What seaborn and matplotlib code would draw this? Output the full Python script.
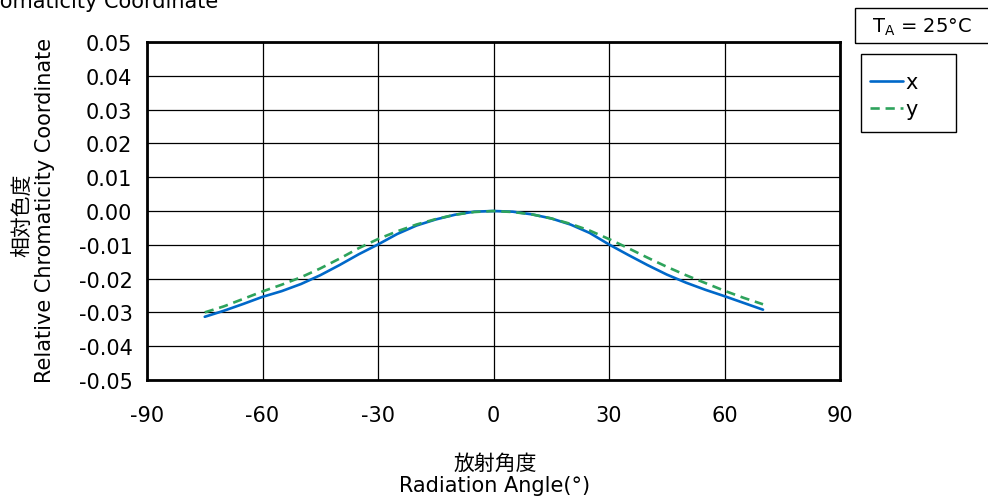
import numpy as np
import pandas as pd
import matplotlib
matplotlib.use('Agg')
import matplotlib.pyplot as plt
import seaborn as sns
from matplotlib.patches import Rectangle

# angulos de radiacao (graus)
angulos = [-75, -70, -65, -60, -55, -50, -45, -40, -35, -30, -25, -20, -15, -10, -5,
           0, 5, 10, 15, 20, 25, 30, 35, 40, 45, 50, 55, 60, 65, 70]

# coordenada x relativa
coord_x = [-0.0313, -0.0295, -0.0275, -0.0254, -0.0237, -0.0216, -0.0190, -0.0160,
           -0.0128, -0.0099, -0.0068, -0.0043, -0.0025, -0.0011, -0.0002,
           0.0000, -0.0002, -0.0010, -0.0022, -0.0040, -0.0065, -0.0099, -0.0130,
           -0.0160, -0.0188, -0.0212, -0.0233, -0.0252, -0.0272, -0.0292]

# coordenada y relativa
coord_y = [-0.0300, -0.0282, -0.0260, -0.0238, -0.0218, -0.0196, -0.0170, -0.0141,
           -0.0110, -0.0083, -0.0060, -0.0040, -0.0024, -0.0011, -0.0003,
           0.0000, -0.0003, -0.0010, -0.0022, -0.0038, -0.0058, -0.0083, -0.0110,
           -0.0138, -0.0165, -0.0190, -0.0213, -0.0236, -0.0257, -0.0276]

xticks = [-90, -60, -30, 0, 30, 60, 90]
yticks = [0.05, 0.04, 0.03, 0.02, 0.01, 0.00, -0.01, -0.02, -0.03, -0.04, -0.05]

df = pd.DataFrame({'angulo': angulos, 'x': coord_x, 'y': coord_y})

sns.set_style('white')
plt.rcParams['font.family'] = ['DejaVu Sans', 'Noto Sans CJK JP']
plt.rcParams['text.color'] = 'black'
plt.rcParams['xtick.color'] = 'black'
plt.rcParams['ytick.color'] = 'black'
cjk = ['Noto Sans CJK JP', 'DejaVu Sans']
fs = 15

W, H = 988, 502
fig = plt.figure(figsize=(W / 100, H / 100), dpi=100)
ax = fig.add_axes([147 / W, 1 - 381 / H, (840 - 147) / W, (381 - 43) / H])

sns.lineplot(data=df, x='angulo', y='x', ax=ax, color='#0068c9', lw=1.9, label='x')
sns.lineplot(data=df, x='angulo', y='y', ax=ax, color='#2ea35c', lw=1.9,
             label='y').lines[-1].set_dashes((3.5, 2.2))

ax.set_xlim(-90, 90)
ax.set_ylim(-0.05, 0.05)
ax.set_xticks(xticks)
ax.set_yticks(yticks)
ax.set_xticklabels([str(t) for t in xticks])
ax.set_yticklabels(['%.2f' % t if t != 0 else '0.00' for t in yticks])
ax.grid(True, color='black', lw=0.9)
ax.tick_params(axis='both', length=0, labelsize=fs)
ax.tick_params(axis='x', pad=18)
ax.tick_params(axis='y', pad=10.5)
for s in ax.spines.values():
    s.set_color('black')
    s.set_linewidth(2)
ax.set_xlabel('')
ax.set_ylabel('')

# legenda (moldura desenhada a parte)
leg = ax.legend(loc='upper left', bbox_to_anchor=(870 / W, 1 - 73 / H),
                bbox_transform=fig.transFigure, frameon=False,
                fontsize=fs, handlelength=1.6, handletextpad=0.1, borderpad=0,
                labelspacing=0.35, borderaxespad=0)
fig.patches.append(Rectangle((861 / W, 1 - 133 / H), 95 / W, 78 / H, transform=fig.transFigure,
                             fill=False, edgecolor='black', lw=1))

# caixa da temperatura
fig.patches.append(Rectangle((855 / W, 1 - 44 / H), 140 / W, 35 / H, transform=fig.transFigure,
                             fill=False, edgecolor='black', lw=1))
fig.text(922 / W, 1 - 27 / H, r'T$_\mathrm{A}$ = 25°C', ha='center', va='center', fontsize=14)

# titulo cortado
fig.text(-36 / W, 1 - 7.5 / H, 'Chromaticity Coordinate', ha='left', va='baseline', fontsize=fs)

# rotulos dos eixos
fig.text(22 / W, 1 - 215 / H, '相対色度', rotation=90, ha='center', va='center',
         fontsize=fs, family=cjk)
fig.text(45 / W, 1 - 210 / H, 'Relative Chromaticity Coordinate', rotation=90,
         ha='center', va='center', fontsize=fs)
fig.text(495 / W, 1 - 464 / H, '放射角度', ha='center', va='center', fontsize=fs, family=cjk)
fig.text(495 / W, 1 - 486 / H, 'Radiation Angle(°)', ha='center', va='center', fontsize=fs)

fig.savefig('out.png', dpi=100)
